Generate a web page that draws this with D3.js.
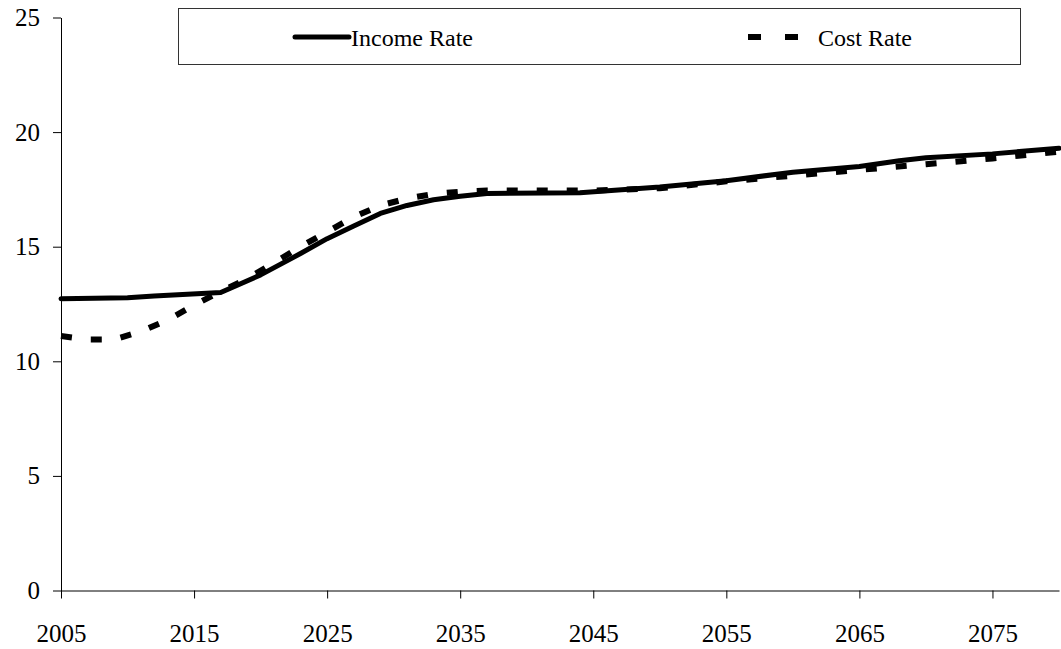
<!DOCTYPE html>
<html>
<head>
<meta charset="utf-8">
<script src="https://cdn.jsdelivr.net/npm/d3@7"></script>
<style>
  body { margin: 0; background: #fff; }
  svg { display: block; font-family: "Liberation Serif", "Times New Roman", serif; }
</style>
</head>
<body>
<div id="chart"></div>
<script>
// series (percent of taxable payroll)
const incomeYears = [2005, 2010, 2012, 2017, 2020, 2023, 2025, 2027, 2029, 2031, 2033, 2035, 2037, 2044, 2050, 2055, 2060, 2065, 2068, 2070, 2075, 2080];
const incomeRate  = [12.73, 12.77, 12.85, 13.0, 13.77, 14.7, 15.35, 15.9, 16.45, 16.8, 17.05, 17.2, 17.32, 17.35, 17.6, 17.88, 18.25, 18.5, 18.75, 18.88, 19.05, 19.3];

const costYears = [2005, 2007, 2009, 2011, 2013, 2015, 2017, 2019, 2021, 2023, 2025, 2027, 2029, 2031, 2033, 2035, 2037, 2045, 2050, 2055, 2060, 2065, 2070, 2075, 2080];
const costRate  = [11.1, 10.95, 10.95, 11.3, 11.8, 12.45, 13.05, 13.6, 14.3, 15.0, 15.65, 16.3, 16.8, 17.1, 17.3, 17.4, 17.45, 17.45, 17.55, 17.85, 18.1, 18.35, 18.6, 18.85, 19.15];

const xTicks = [2005, 2015, 2025, 2035, 2045, 2055, 2065, 2075];
const yTicks = [0, 5, 10, 15, 20, 25];
const seriesNames = ["Income Rate", "Cost Rate"];

const width = 1061, height = 649;

const svg = d3.select("#chart")
  .append("svg")
  .attr("width", width)
  .attr("height", height);

const x = d3.scaleLinear().domain([2005, 2080]).range([61, 1059]);
const y = d3.scaleLinear().domain([0, 25]).range([590.5, 17.5]);

// y axis
svg.append("g")
   .attr("transform", "translate(61,0)")
   .call(d3.axisLeft(y).tickValues(yTicks).tickSize(8).tickSizeOuter(0).tickPadding(13))
   .call(g => g.selectAll("text").attr("font-size", "25px").attr("fill", "#000"))
   .call(g => g.selectAll("line,path").attr("stroke", "#000"))
   .attr("font-family", null);

// x axis
svg.append("g")
   .attr("transform", "translate(0,590.5)")
   .call(d3.axisBottom(x).tickValues(xTicks).tickFormat(d3.format("d")).tickSize(8).tickSizeOuter(0).tickPadding(26))
   .call(g => g.selectAll("text").attr("font-size", "25px").attr("fill", "#000"))
   .call(g => g.selectAll("line,path").attr("stroke", "#000"))
   .attr("font-family", null);

const incomeData = incomeYears.map((yr, i) => ({ year: yr, v: incomeRate[i] }));
const costData = costYears.map((yr, i) => ({ year: yr, v: costRate[i] }));

const line = d3.line().x(d => x(d.year)).y(d => y(d.v));

svg.append("path")
   .datum(costData)
   .attr("d", line)
   .attr("fill", "none")
   .attr("stroke", "#000")
   .attr("stroke-width", 6)
   .attr("stroke-dasharray", "11,19");

svg.append("path")
   .datum(incomeData)
   .attr("d", line)
   .attr("fill", "none")
   .attr("stroke", "#000")
   .attr("stroke-width", 5)
   .attr("stroke-linejoin", "round")
   .attr("stroke-linecap", "round");

// legend
const legend = svg.append("g");
legend.append("rect")
      .attr("x", 178.5).attr("y", 8.5)
      .attr("width", 842).attr("height", 56)
      .attr("fill", "#fff")
      .attr("stroke", "#333");

legend.append("line")
      .attr("x1", 295).attr("x2", 349).attr("y1", 37).attr("y2", 37)
      .attr("stroke", "#000").attr("stroke-width", 5).attr("stroke-linecap", "round");
legend.append("text")
      .attr("x", 351).attr("y", 46)
      .attr("font-size", "24px")
      .text(seriesNames[0]);

legend.append("line")
      .attr("x1", 748).attr("x2", 800).attr("y1", 37).attr("y2", 37)
      .attr("stroke", "#000").attr("stroke-width", 6).attr("stroke-dasharray", "13,24");
legend.append("text")
      .attr("x", 818).attr("y", 46)
      .attr("font-size", "24px")
      .text(seriesNames[1]);
</script>
</body>
</html>
